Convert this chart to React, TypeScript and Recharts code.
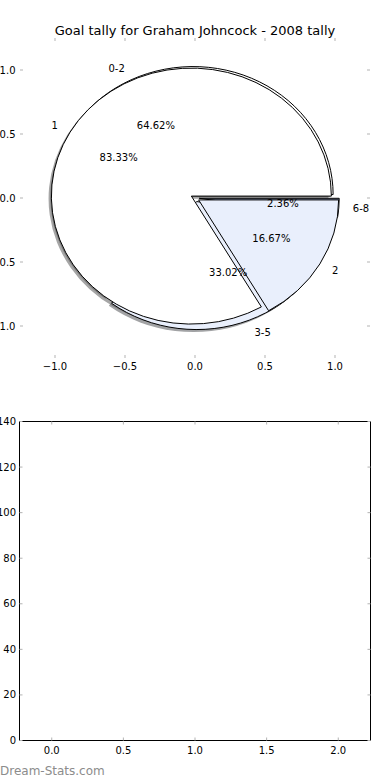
import React from 'react';
import { PieChart, Pie, ScatterChart, Scatter, XAxis, YAxis } from 'recharts';

// ---- data ----
const title = 'Goal tally for Graham Johncock - 2008 tally';
const outerNames = ['0-2', '3-5', '6-8'];
const outerValues = [274, 140, 10];
const innerNames = ['1', '2'];
const innerValues = [5, 1];
const pieTicks = [-1, -0.5, 0, 0.5, 1];
const lowerXTicks = [0, 0.5, 1, 1.5, 2];
const lowerYTicks = [0, 20, 40, 60, 80, 100, 120, 140];
const watermark = 'Dream-Stats.com';

const outerData = outerNames.map((name, i) => ({ name, value: outerValues[i] }));
const innerData = innerNames.map((name, i) => ({ name, value: innerValues[i] }));
const emptyPoints: { x: number; y: number }[] = [];

// ---- styles ----
const outerColors = ['#ffffff', '#e9effc', '#8893b0'];
const innerColors = ['#ffffff', '#e9effc'];
const EXPLODE = 0.03;
const KY = 128 / 140;
const SHADOW_DX = -0.02;
const SHADOW_DY = 0.02;
const FONT = '"DejaVu Sans", sans-serif';
const RAD = Math.PI / 180;
const TICK_STROKE = '#b3b3b3';

const fmt = (v: number) => (v < 0 ? '\u2212' : '') + Math.abs(v).toFixed(1);
const blank = () => '';

function shade(hex: string) {
  const n = parseInt(hex.slice(1), 16);
  const r = Math.round(((n >> 16) & 255) * 0.3);
  const g = Math.round(((n >> 8) & 255) * 0.3);
  const b = Math.round((n & 255) * 0.3);
  return `rgb(${r},${g},${b})`;
}

function geom(p: any) {
  const mid = (p.startAngle + p.endAngle) / 2;
  const r = p.outerRadius;
  return {
    mid,
    r,
    ox: p.cx + EXPLODE * r * Math.cos(mid * RAD),
    oy: p.cy - EXPLODE * r * KY * Math.sin(mid * RAD),
  };
}

function sectorPath(ox: number, oy: number, r: number, a0: number, a1: number) {
  const x0 = ox + r * Math.cos(a0 * RAD);
  const y0 = oy - r * KY * Math.sin(a0 * RAD);
  const x1 = ox + r * Math.cos(a1 * RAD);
  const y1 = oy - r * KY * Math.sin(a1 * RAD);
  const large = a1 - a0 > 180 ? 1 : 0;
  return `M${ox},${oy}L${x0},${y0}A${r},${r * KY} 0 ${large} 0 ${x1},${y1}Z`;
}

const makeWedge = (colors: string[]) => (p: any) => {
  const { r, ox, oy } = geom(p);
  return (
    <path
      d={sectorPath(ox, oy, r, p.startAngle, p.endAngle)}
      fill={colors[p.index]}
      stroke="#000"
      strokeWidth={1}
      strokeLinejoin="miter"
    />
  );
};

const makeShadow = (colors: string[]) => (p: any) => {
  const { r, ox, oy } = geom(p);
  return (
    <path
      d={sectorPath(ox + SHADOW_DX * r, oy + SHADOW_DY * r * KY, r, p.startAngle, p.endAngle)}
      fill={shade(colors[p.index])}
      fillOpacity={0.5}
      stroke="none"
    />
  );
};

const renderText = (p: any) => {
  const { mid, r, ox, oy } = geom(p);
  const c = Math.cos(mid * RAD);
  const s = Math.sin(mid * RAD);
  const lx = ox + 1.1 * r * c;
  const ly = oy - 1.1 * r * KY * s;
  const px = ox + 0.6 * r * c;
  const py = oy - 0.6 * r * KY * s;
  return (
    <g>
      <text x={lx} y={ly} textAnchor={lx > p.cx ? 'start' : 'end'} dominantBaseline="central"
        fontFamily={FONT} fontSize={10} fill="#000">{p.name}</text>
      <text x={px} y={py} textAnchor="middle" dominantBaseline="central"
        fontFamily={FONT} fontSize={10} fill="#000">{(p.percent * 100).toFixed(2)}%</text>
    </g>
  );
};

const tickStyle = { fill: '#000', fontSize: 10, fontFamily: FONT };
const tickLineStyle = { stroke: TICK_STROKE, strokeWidth: 1 };

const pieCommon = {
  dataKey: 'value',
  nameKey: 'name',
  cx: 195,
  cy: 198,
  outerRadius: 140,
  startAngle: 0,
  endAngle: 360,
  fill: 'none',
  stroke: 'none',
  isAnimationActive: false,
  labelLine: false,
} as const;

export default function App() {
  return (
    <div style={{ position: 'absolute', left: 0, top: 0, width: 390, height: 780, background: '#fff', fontFamily: FONT }}>
      {/* upper axes (pie frame) */}
      <div style={{ position: 'absolute', left: 0, top: 0 }}>
        <ScatterChart width={390} height={390} margin={{ top: 18, right: 0, bottom: 0, left: 0 }}>
          <XAxis xAxisId="b" orientation="bottom" type="number" dataKey="x" domain={[-1.25, 1.25]} ticks={pieTicks}
            height={32} axisLine={false} tickSize={-3} tickMargin={8} tickLine={tickLineStyle}
            tick={tickStyle} tickFormatter={fmt} allowDataOverflow />
          <XAxis xAxisId="t" orientation="top" type="number" dataKey="x" domain={[-1.25, 1.25]} ticks={pieTicks}
            height={20} axisLine={false} tickSize={-3} tickLine={tickLineStyle} tick={tickStyle}
            tickFormatter={blank} allowDataOverflow />
          <YAxis yAxisId="l" orientation="left" type="number" dataKey="y" domain={[-1.25, 1.25]} ticks={pieTicks}
            width={20} axisLine={false} tickSize={-3} tickMargin={7.5} tickLine={tickLineStyle}
            tick={tickStyle} tickFormatter={fmt} allowDataOverflow />
          <YAxis yAxisId="r" orientation="right" type="number" dataKey="y" domain={[-1.25, 1.25]} ticks={pieTicks}
            width={20} axisLine={false} tickSize={-3} tickLine={tickLineStyle} tick={tickStyle}
            tickFormatter={blank} allowDataOverflow />
          <Scatter data={emptyPoints} xAxisId="b" yAxisId="l" isAnimationActive={false} />
          <Scatter data={emptyPoints} xAxisId="t" yAxisId="r" isAnimationActive={false} />
        </ScatterChart>
      </div>
      {/* pies */}
      <div style={{ position: 'absolute', left: 0, top: 0 }}>
        <PieChart width={390} height={390} margin={{ top: 0, right: 0, bottom: 0, left: 0 }}>
          <Pie {...pieCommon} data={outerData} label={makeShadow(outerColors)} />
          <Pie {...pieCommon} data={innerData} label={makeShadow(innerColors)} />
          <Pie {...pieCommon} data={outerData} label={makeWedge(outerColors)} />
          <Pie {...pieCommon} data={innerData} label={makeWedge(innerColors)} />
          <Pie {...pieCommon} data={outerData} label={renderText} />
          <Pie {...pieCommon} data={innerData} label={renderText} />
        </PieChart>
      </div>
      {/* lower empty axes */}
      <div style={{ position: 'absolute', left: 0, top: 390 }}>
        <ScatterChart width={390} height={390} margin={{ top: 11.5, right: 0, bottom: 0, left: 0 }}>
          <XAxis xAxisId="b" orientation="bottom" type="number" dataKey="x" domain={[-0.225, 2.225]} ticks={lowerXTicks}
            height={39.5} axisLine={{ stroke: '#000', strokeWidth: 1 }} tickSize={-3} tickMargin={9}
            tickLine={tickLineStyle} tick={tickStyle} tickFormatter={fmt} allowDataOverflow />
          <XAxis xAxisId="t" orientation="top" type="number" dataKey="x" domain={[-0.225, 2.225]} ticks={lowerXTicks}
            height={20} axisLine={{ stroke: '#000', strokeWidth: 1 }} tickSize={-3} tickLine={tickLineStyle}
            tick={tickStyle} tickFormatter={blank} allowDataOverflow />
          <YAxis yAxisId="l" orientation="left" type="number" dataKey="y" domain={[0, 140]} ticks={lowerYTicks}
            width={19.5} axisLine={{ stroke: '#000', strokeWidth: 1 }} tickSize={-3} tickMargin={6.5}
            tickLine={tickLineStyle} tick={tickStyle} allowDataOverflow />
          <YAxis yAxisId="r" orientation="right" type="number" dataKey="y" domain={[0, 140]} ticks={lowerYTicks}
            width={19.5} axisLine={{ stroke: '#000', strokeWidth: 1 }} tickSize={-3} tickLine={tickLineStyle}
            tick={tickStyle} tickFormatter={blank} allowDataOverflow />
          <Scatter data={emptyPoints} xAxisId="b" yAxisId="l" isAnimationActive={false} />
          <Scatter data={emptyPoints} xAxisId="t" yAxisId="r" isAnimationActive={false} />
        </ScatterChart>
      </div>
      {/* title + watermark */}
      <svg width={390} height={780} style={{ position: 'absolute', left: 0, top: 0, pointerEvents: 'none' }}>
        <text x={195} y={35} textAnchor="middle" fontFamily={FONT} fontSize={13} fill="#000">{title}</text>
        <text x={0} y={775} fontFamily={FONT} fontSize={12} fill="#8c8c8c">{watermark}</text>
      </svg>
    </div>
  );
}
